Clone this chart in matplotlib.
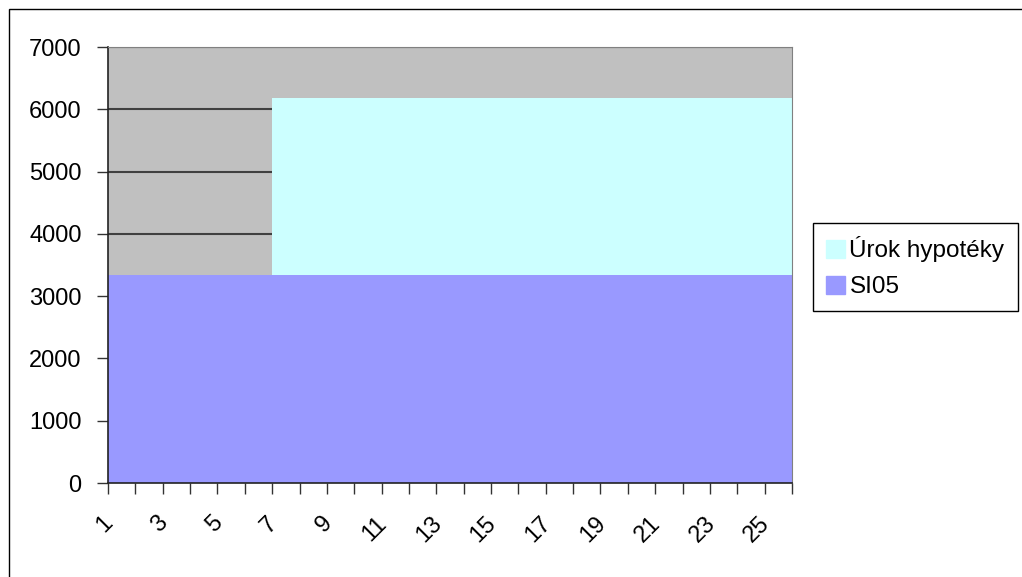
import matplotlib.pyplot as plt
import matplotlib.patches as mpatches
import matplotlib.transforms as mtransforms
import numpy as np

plt.rcParams['font.family'] = ['Liberation Sans', 'DejaVu Sans']

# monthly categories and stacked series
months = list(range(1, 27))
si05 = [3340] * 26
urok = [0, 0, 0, 0, 0, 0] + [2840] * 20

c_si05 = '#9999FF'
c_urok = '#CCFFFF'

fig = plt.figure(figsize=(10.22, 5.77), dpi=100)
ax = fig.add_axes([108 / 1022, 1 - 483 / 577, (792 - 108) / 1022, (483 - 47) / 577])
ax.set_facecolor('#C0C0C0')

x = np.array(months)
base = np.array(si05)
top = base + np.array(urok)
ax.fill_between(x, 0, base, color=c_si05, lw=0, zorder=2)
ax.fill_between(x, base, top, step='post', color=c_urok, lw=0, zorder=2)

ax.set_xlim(1, 26)
ax.set_ylim(0, 7000)
ax.set_yticks(range(0, 7001, 1000))
ax.set_xticks(months)
ax.set_xticklabels([str(m) if m % 2 == 1 else '' for m in months],
                   rotation=45, ha='right', va='top', rotation_mode='anchor')
ax.tick_params(axis='both', labelsize=17, direction='out', length=8,
               width=1, color='#333333')
ax.tick_params(axis='x', pad=13)
ax.tick_params(axis='y', pad=11)

# nudge the rotated labels so they end under their ticks
shift = mtransforms.ScaledTranslation(-6 / 100, 0, fig.dpi_scale_trans)
for lab in ax.get_xticklabels():
    lab.set_transform(lab.get_transform() + shift)

ax.set_axisbelow(True)
ax.yaxis.grid(True, color='#404040', lw=1.5)
for side in ['top', 'right']:
    ax.spines[side].set_color('#808080')
for side in ['left', 'bottom']:
    ax.spines[side].set_color('#222222')
    ax.spines[side].set_linewidth(1.2)

handles = [mpatches.Patch(color=c_urok, label='Úrok hypotéky'),
           mpatches.Patch(color=c_si05, label='SI05')]
leg = fig.legend(handles=handles, loc='upper left',
                 bbox_to_anchor=(813 / 1022, 1 - 223 / 577),
                 bbox_transform=fig.transFigure, borderaxespad=0,
                 fontsize=17.5, fancybox=False, edgecolor='black',
                 handlelength=0.75, handleheight=0.75, handletextpad=0.2,
                 borderpad=0.55, labelspacing=0.55, framealpha=1)
leg.get_frame().set_linewidth(1)

# chart area border
fig.add_artist(mpatches.Rectangle((9 / 1022, -0.05), 1.2, 1.05 - 9 / 577,
                                  transform=fig.transFigure, fill=False,
                                  lw=1, edgecolor='black'))

fig.savefig('out.png', dpi=100)
